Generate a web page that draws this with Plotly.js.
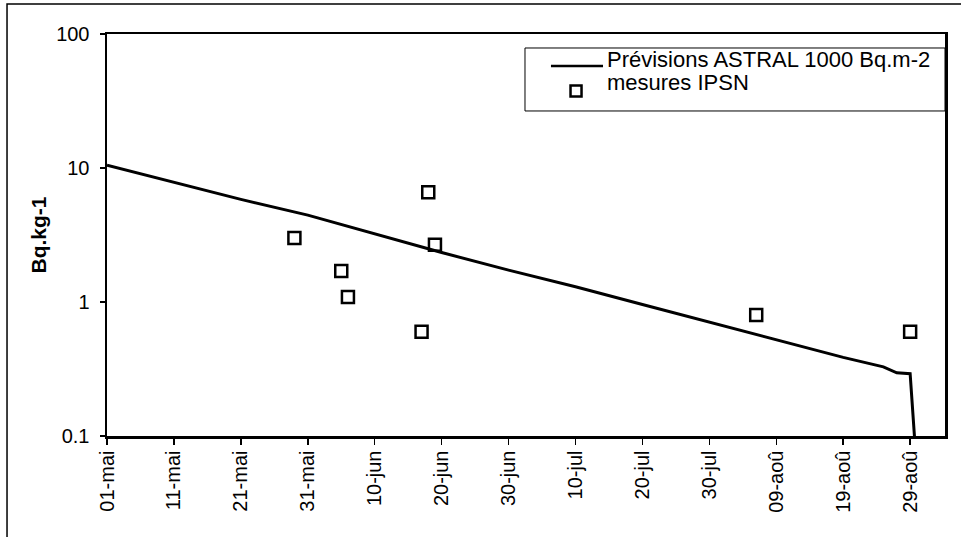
<!DOCTYPE html>
<html>
<head>
<meta charset="utf-8">
<script src="https://cdn.plot.ly/plotly-3.0.1.min.js"></script>
<style>
  html, body { margin: 0; padding: 0; background: #ffffff; }
  #chart { width: 961px; height: 537px; }
</style>
</head>
<body>
<div id="chart"></div>
<script>
// ASTRAL forecast for a deposit of 1000 Bq.m-2 (Bq.kg-1)
const forecastDates = ['1986-05-01', '1986-05-11', '1986-05-21', '1986-05-31', '1986-06-10', '1986-06-20',
  '1986-06-30', '1986-07-10', '1986-07-20', '1986-07-30', '1986-08-09', '1986-08-19', '1986-08-25',
  '1986-08-27', '1986-08-29', '1986-08-30'];
const forecastValues = [10.5, 7.86, 5.83, 4.45, 3.21, 2.34,
  1.73, 1.30, 0.957, 0.709, 0.527, 0.386, 0.328,
  0.296, 0.292, 0.055];

// IPSN measurements
const measureDates = ['1986-05-29', '1986-06-05', '1986-06-06', '1986-06-17', '1986-06-18', '1986-06-19',
  '1986-08-06', '1986-08-29'];
const measureValues = [3.0, 1.7, 1.09, 0.6, 6.6, 2.68, 0.8, 0.6];

// Series labels
const forecastName = 'Prévisions ASTRAL 1000 Bq.m-2';
const measureName = 'mesures IPSN';

// Axis ticks
const xTickVals = ['1986-05-01', '1986-05-11', '1986-05-21', '1986-05-31', '1986-06-10', '1986-06-20',
  '1986-06-30', '1986-07-10', '1986-07-20', '1986-07-30', '1986-08-09', '1986-08-19', '1986-08-29'];
const xTickText = ['01-mai', '11-mai', '21-mai', '31-mai', '10-jun', '20-jun',
  '30-jun', '10-jul', '20-jul', '30-jul', '09-aoû', '19-aoû', '29-aoû'];
const yTickVals = [0.1, 1, 10, 100];
const yTickText = ['0.1', '1', '10', '100'];

const xRange = ['1986-05-01', '1986-09-03 05:00'];
const yRange = [-1, 2];

const FONT = 'Liberation Sans, Arial, Helvetica, sans-serif';
const BLACK = '#000000';

const traces = [
  {
    x: forecastDates,
    y: forecastValues,
    type: 'scatter',
    mode: 'lines',
    name: forecastName,
    line: { color: BLACK, width: 3 },
    hoverinfo: 'x+y'
  },
  {
    x: measureDates,
    y: measureValues,
    type: 'scatter',
    mode: 'markers',
    name: measureName,
    marker: { symbol: 'square-open', size: 12, color: BLACK, line: { width: 2.5, color: BLACK } },
    hoverinfo: 'x+y'
  }
];

// Boxed key in the upper right of the plot area
const keyShapes = [
  {
    type: 'rect', xref: 'paper', yref: 'paper',
    x0: 0.4988, x1: 1.0, y0: 0.8085, y1: 0.9652,
    line: { color: BLACK, width: 1 },
    fillcolor: '#ffffff',
    layer: 'above'
  },
  {
    type: 'line', xref: 'paper', yref: 'paper',
    x0: 0.5298, x1: 0.5919, y0: 0.9204, y1: 0.9204,
    line: { color: BLACK, width: 2.5 },
    layer: 'above'
  },
  {
    type: 'rect', xref: 'paper', yref: 'paper',
    xsizemode: 'pixel', ysizemode: 'pixel',
    xanchor: 0.5597, yanchor: 0.8582,
    x0: -5.5, x1: 5.5, y0: -5.5, y1: 5.5,
    line: { color: BLACK, width: 2.5 },
    fillcolor: 'rgba(0,0,0,0)',
    layer: 'above'
  }
];

const keyLabels = [
  {
    xref: 'paper', yref: 'paper', x: 0.5943, y: 0.9366,
    xanchor: 'left', yanchor: 'middle', showarrow: false,
    text: forecastName,
    font: { family: FONT, size: 22, color: BLACK }
  },
  {
    xref: 'paper', yref: 'paper', x: 0.5943, y: 0.8786,
    xanchor: 'left', yanchor: 'middle', showarrow: false,
    text: measureName,
    font: { family: FONT, size: 22, color: BLACK }
  }
];

const layout = {
  width: 961,
  height: 537,
  margin: { l: 107, r: 16, t: 34, b: 101 },
  paper_bgcolor: '#ffffff',
  plot_bgcolor: '#ffffff',
  font: { family: FONT, color: BLACK, size: 20 },
  showlegend: false,
  xaxis: {
    type: 'date',
    range: xRange,
    tickmode: 'array',
    tickvals: xTickVals,
    ticktext: xTickText,
    tickangle: -90,
    ticks: 'outside',
    ticklen: 6,
    tickwidth: 1.5,
    tickcolor: BLACK,
    tickfont: { family: FONT, size: 20, color: BLACK },
    ticklabelstandoff: -2,
    showline: true,
    linecolor: BLACK,
    linewidth: 2.5,
    mirror: true,
    showgrid: false,
    zeroline: false
  },
  // second x axis carries the inner half of the crossing tick marks
  xaxis2: {
    type: 'date',
    overlaying: 'x',
    anchor: 'y',
    range: xRange,
    tickmode: 'array',
    tickvals: xTickVals,
    ticks: 'inside',
    ticklen: 6,
    tickwidth: 1.5,
    tickcolor: BLACK,
    showticklabels: false,
    showline: false,
    showgrid: false,
    zeroline: false
  },
  yaxis: {
    type: 'log',
    range: yRange,
    tickmode: 'array',
    tickvals: yTickVals,
    ticktext: yTickText,
    ticks: 'outside',
    ticklen: 5,
    tickwidth: 1.5,
    tickcolor: BLACK,
    tickfont: { family: FONT, size: 20, color: BLACK },
    ticklabelstandoff: 6,
    showline: true,
    linecolor: BLACK,
    linewidth: 2.5,
    mirror: true,
    showgrid: false,
    zeroline: false,
    title: {
      text: '<b>Bq.kg-1</b>',
      font: { family: FONT, size: 21, color: BLACK },
      standoff: 4
    }
  },
  yaxis2: {
    type: 'log',
    overlaying: 'y',
    anchor: 'x',
    side: 'left',
    range: yRange,
    tickmode: 'array',
    tickvals: yTickVals,
    ticks: 'inside',
    ticklen: 6,
    tickwidth: 1.5,
    tickcolor: BLACK,
    showticklabels: false,
    showline: false,
    showgrid: false,
    zeroline: false
  },
  shapes: [
    // outer frame of the figure
    {
      type: 'rect', xref: 'paper', yref: 'paper',
      x0: -0.1193, x1: 1.2, y0: -0.5, y1: 1.0746,
      line: { color: BLACK, width: 1.5 },
      fillcolor: 'rgba(0,0,0,0)',
      layer: 'below'
    }
  ].concat(keyShapes),
  annotations: keyLabels
};

Plotly.newPlot('chart', traces, layout, { displayModeBar: false, staticPlot: true });
</script>
</body>
</html>
